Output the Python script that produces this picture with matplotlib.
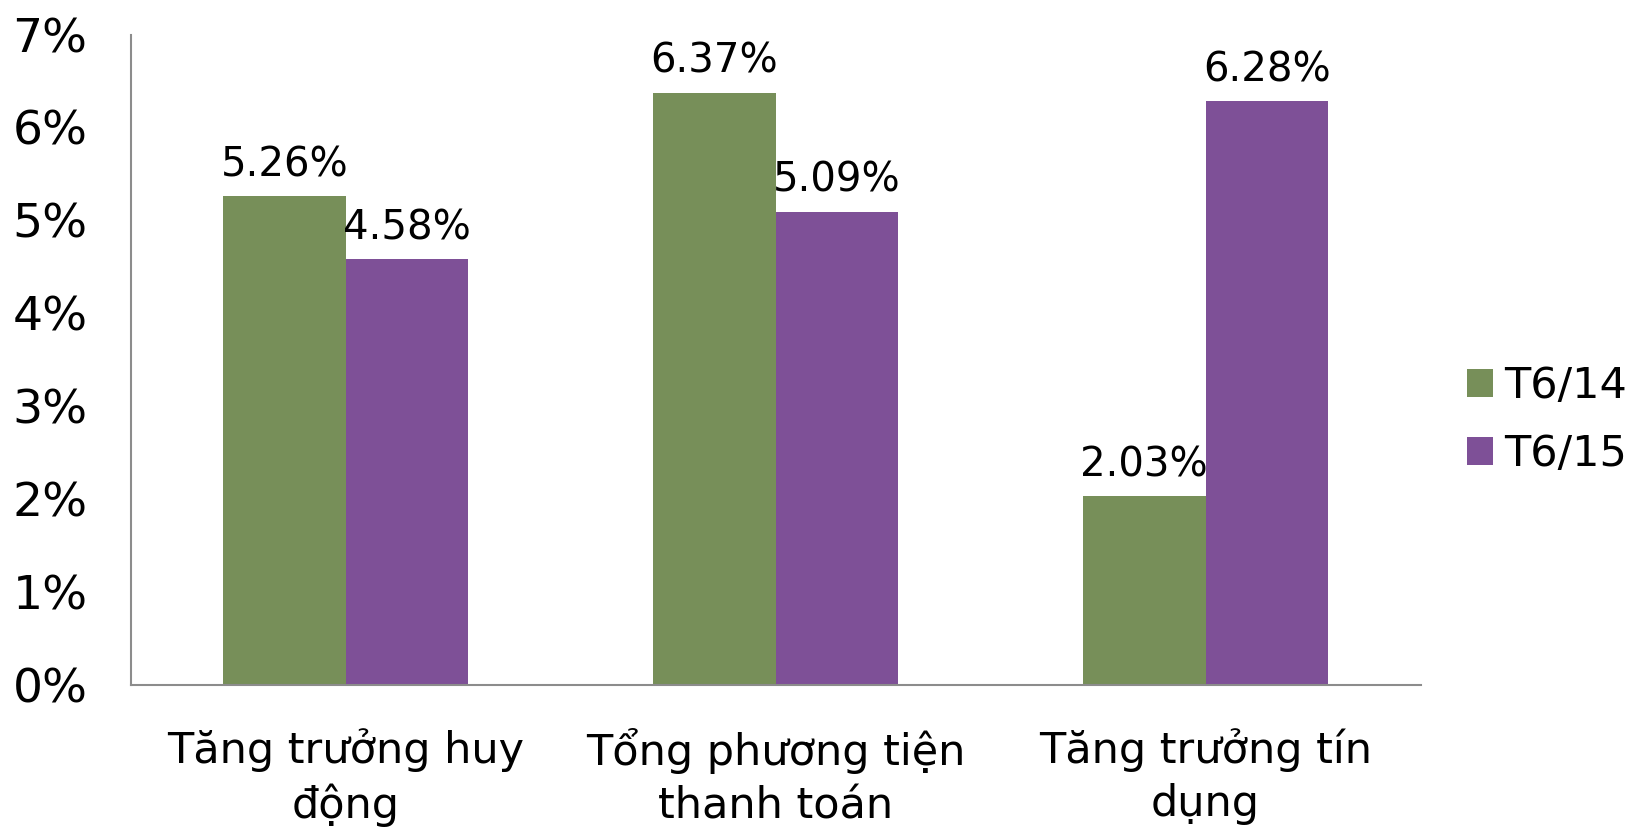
import matplotlib
matplotlib.use("Agg")
import matplotlib.pyplot as plt
import numpy as np
from matplotlib.ticker import FuncFormatter

# ── data ────────────────────────────────────────────────────────────────────
categories = ["Tăng trưởng huy\nđộng", "Tổng phương tiện\nthanh toán",
              "Tăng trưởng tín\ndụng"]
t6_14 = [5.26, 6.37, 2.03]
t6_15 = [4.58, 5.09, 6.28]
series_names = ["T6/14", "T6/15"]

C_GREEN = "#778F59"
C_PURPLE = "#7E5097"
C_AXIS = "#8C8C8C"

plt.rcParams["font.family"] = ["DejaVu Sans"]

fig = plt.figure(figsize=(16.38, 8.32), dpi=100)
ax = fig.add_axes([0.0797, 0.1767, 0.7876, 0.7818])

x = np.arange(len(categories))
w = 0.285
b1 = ax.bar(x - w / 2, t6_14, w, color=C_GREEN, label=series_names[0])
b2 = ax.bar(x + w / 2, t6_15, w, color=C_PURPLE, label=series_names[1])

for bars in (b1, b2):
    ax.bar_label(bars, labels=[f"{v:.2f}%" for v in bars.datavalues],
                 padding=8, fontsize=29)

ax.set_xlim(-0.5, 2.5)
ax.set_ylim(0, 7)
ax.set_yticks(range(0, 8))
ax.yaxis.set_major_formatter(FuncFormatter(lambda v, _: f"{v:.0f}%"))
ax.set_xticks(x)
ax.set_xticklabels(categories, fontsize=31, linespacing=1.35)
ax.tick_params(axis="y", length=0, pad=31, labelsize=34)
ax.tick_params(axis="x", length=0, pad=31)

for s in ("top", "right"):
    ax.spines[s].set_visible(False)
for s in ("left", "bottom"):
    ax.spines[s].set_color(C_AXIS)
    ax.spines[s].set_linewidth(1.5)

fig.legend(handles=[b1, b2], loc="center left",
           bbox_to_anchor=(0.872, 0.495), frameon=False, fontsize=31,
           handlelength=0.6, handleheight=0.6, handletextpad=0.27,
           labelspacing=0.6)

fig.savefig("out.png", dpi=100, facecolor="white")
plt.close(fig)
